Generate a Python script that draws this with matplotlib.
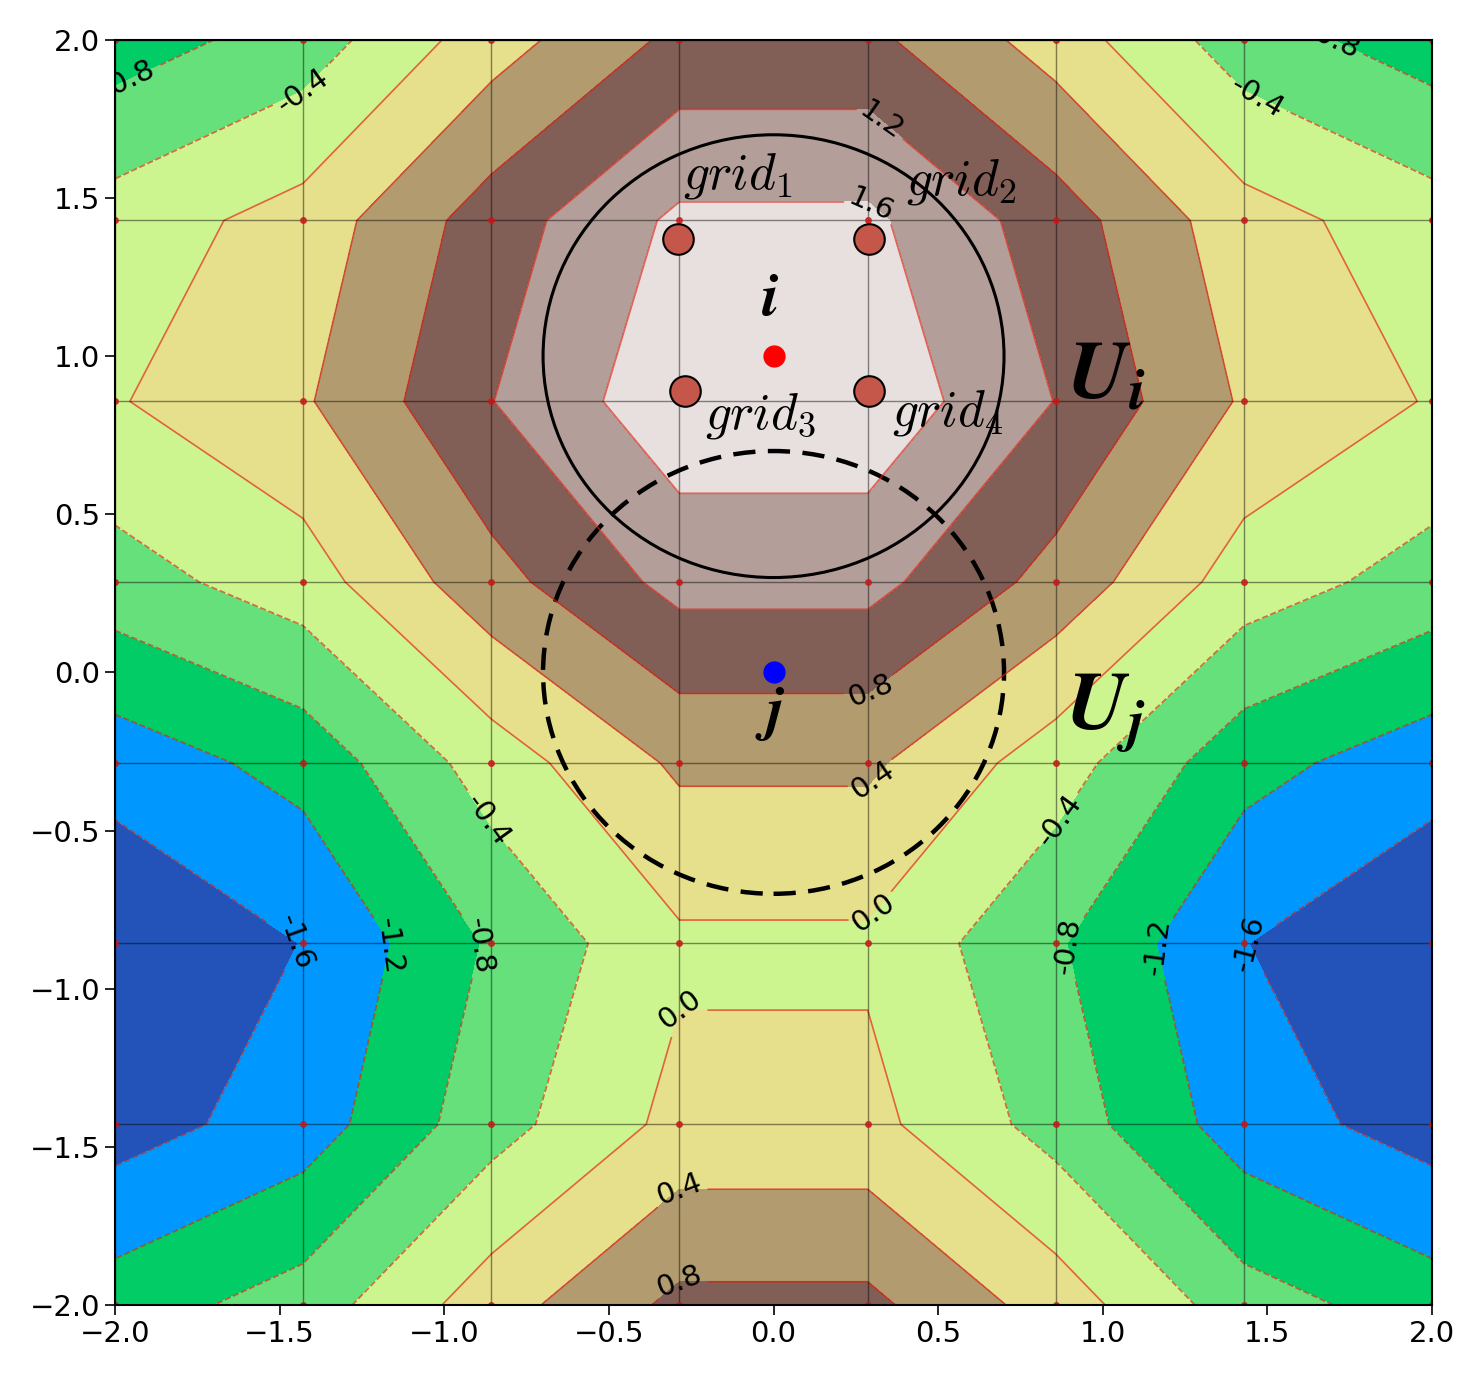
"""Potential field on a coarse grid with the two neighbourhoods U_i and U_j."""
import matplotlib
import matplotlib.pyplot as plt
import numpy as np
from matplotlib.patches import Circle

matplotlib.use("Agg")
plt.rcParams["mathtext.fontset"] = "cm"

# sampling grid (8 x 8)
grid_x = [-2.0, -1.429, -0.857, -0.286, 0.286, 0.857, 1.429, 2.0]
grid_y = [-2.0, -1.429, -0.857, -0.286, 0.286, 0.857, 1.429, 2.0]

# field values on the grid, rows from y=-2 (bottom) to y=2 (top)
z_rows = [
    [-1.00, -0.62, 0.22, 0.90, 0.90, 0.22, -0.62, -1.00],
    [-1.78, -1.41, -0.56, 0.12, 0.12, -0.56, -1.41, -1.78],
    [-1.97, -1.59, -0.75, -0.07, -0.07, -0.75, -1.59, -1.97],
    [-1.43, -1.06, -0.21, 0.47, 0.47, -0.21, -1.06, -1.43],
    [-0.57, -0.19, 0.66, 1.33, 1.33, 0.66, -0.19, -0.57],
    [-0.03, 0.35, 1.19, 1.88, 1.88, 1.19, 0.35, -0.03],
    [-0.22, 0.16, 1.00, 1.68, 1.68, 1.00, 0.16, -0.22],
    [-1.00, -0.62, 0.22, 0.90, 0.90, 0.22, -0.62, -1.00],
]
levels = [-2.0, -1.6, -1.2, -0.8, -0.4, 0.0, 0.4, 0.8, 1.2, 1.6, 2.0]

# where the contour labels sit
label_x = [-1.95, -1.38, 1.45, 1.68, 0.29, 0.29, 0.29, 0.29, -0.87, 0.87,
           -1.45, -1.15, -0.87, 0.87, 1.15, 1.42, 0.29, -0.29, -0.29, -0.29]
label_y = [1.85, 1.77, 1.78, 1.96, 1.70, 1.47, -0.05, -0.33, -0.47, -0.47,
           -0.85, -0.87, -0.87, -0.87, -0.87, -0.85, -0.75, -1.05, -1.60, -1.88]

# agents and the four grid nodes around agent i
agent_i = (0.0, 1.0)
agent_j = (0.0, 0.0)
radius = 0.7
node_x = [-0.29, 0.29, -0.27, 0.29]
node_y = [1.37, 1.37, 0.89, 0.89]
node_names = ["$grid_1$", "$grid_2$", "$grid_3$", "$grid_4$"]
name_x = [-0.11, 0.57, -0.04, 0.53]
name_y = [1.57, 1.55, 0.81, 0.82]

X, Y = np.meshgrid(grid_x, grid_y)
Z = np.array(z_rows)

fig = plt.figure(figsize=(14.73, 13.90), dpi=100)
ax = fig.add_axes([0.0781, 0.0612, 0.8941, 0.9101])

ax.contourf(X, Y, Z, levels=levels, cmap="terrain")
cs = ax.contour(X, Y, Z, levels=levels, colors="#e02010", linewidths=1.2,
                alpha=0.65)
labels = ax.clabel(cs, inline=True, fontsize=21, fmt="%1.1f", colors="k",
                   manual=list(zip(label_x, label_y)))
for t in labels:
    t.set_alpha(1.0)

# grid mesh and nodes
ax.plot(X, Y, "-", color="k", lw=1.0, alpha=0.45)
ax.plot(X.T, Y.T, "-", color="k", lw=1.0, alpha=0.45)
ax.plot(X, Y, ".", color="#c81818", ms=8, alpha=0.8)

ax.add_patch(Circle(agent_i, radius, fill=False, ec="k", lw=2.2))
ax.add_patch(Circle(agent_j, radius, fill=False, ec="k", lw=3.2,
                    ls=(0, (5, 2.8))))

ax.plot(node_x, node_y, "o", ms=22, color="#c4574a", mec="k", mew=1.5)
ax.plot(*agent_i, "o", ms=15, color="red")
ax.plot(*agent_j, "o", ms=15, color="blue")

for nx, ny, name in zip(name_x, name_y, node_names):
    ax.text(nx, ny, name, fontsize=37, ha="center", va="center")
ax.text(-0.01, 1.18, r"$\boldsymbol{i}$", fontsize=44, ha="center", va="center")
ax.text(-0.01, -0.13, r"$\boldsymbol{j}$", fontsize=44, ha="center", va="center")
ax.text(1.01, 0.94, r"$\mathbfit{U}_{\mathbfit{i}}$", fontsize=60, ha="center",
        va="center", math_fontfamily="stix")
ax.text(1.01, -0.13, r"$\mathbfit{U}_{\mathbfit{j}}$", fontsize=60, ha="center",
        va="center", math_fontfamily="stix")

ax.set_xlim(-2, 2)
ax.set_ylim(-2, 2)
ax.set_xticks(np.arange(-2, 2.01, 0.5))
ax.set_yticks(np.arange(-2, 2.01, 0.5))
ax.tick_params(labelsize=21, length=7, width=1.2)
for s in ax.spines.values():
    s.set_linewidth(1.5)

fig.savefig("out.png", dpi=100)
plt.close(fig)
